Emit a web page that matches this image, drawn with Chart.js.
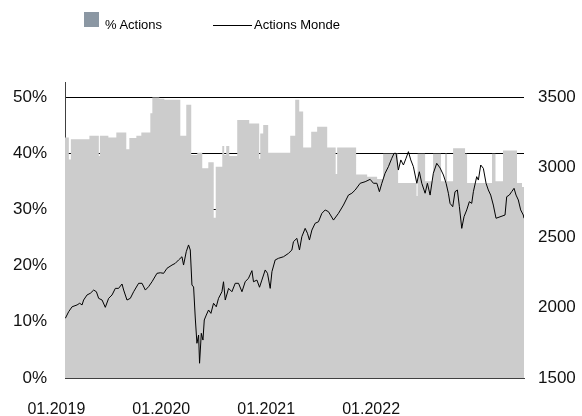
<!DOCTYPE html>
<html>
<head>
<meta charset="utf-8">
<script src="https://cdn.jsdelivr.net/npm/chart.js@4.4.1/dist/chart.umd.min.js"></script>
<style>
  html, body { margin: 0; padding: 0; background: #fff; }
  #wrap { position: relative; width: 582px; height: 416px; }
  .leg { position: absolute; font-family: 'Liberation Sans', Arial, sans-serif; font-size: 13px; line-height: 15px; color: #000; white-space: nowrap; }
  .carre { position: absolute; left: 84px; top: 12px; width: 15px; height: 15px; background: #8b97a3; }
  .trait { position: absolute; left: 213px; top: 25px; width: 39px; height: 1px; background: #000; }
</style>
</head>
<body>
<div id="wrap">
  <canvas id="graf" width="582" height="416"></canvas>
  <div class="carre"></div>
  <div class="leg" style="left:105px; top:17px;">% Actions</div>
  <div class="trait"></div>
  <div class="leg" style="left:254px; top:17px;">Actions Monde</div>
</div>
<script>
// axe X : mois depuis 01.2019
const xTickPos = [0, 12, 24, 36];
const xTickLabels = ['01.2019', '01.2020', '01.2021', '01.2022'];

// % Actions (paliers), debut de chaque palier en mois
const partMois = [-0.5, -0.06, 0.17, 2.29, 3.37, 3.49, 4.46, 5.37, 6.51, 6.86, 7.66, 8.23, 9.26, 9.49, 10.29, 10.86,
  12.69, 13.37, 13.94, 14.63, 15.20, 15.89, 16.51, 16.74, 17.49, 17.71, 17.94, 18.29, 19.20, 20.57, 21.71, 21.83,
  22.17, 22.74, 25.26, 25.83, 26.29, 26.74, 27.66, 28.34, 29.49, 30.46, 30.63, 32.80, 34.06, 35.20, 35.89, 37.60,
  39.71, 39.83, 40.69, 41.60, 42.51, 42.97, 43.20, 43.89, 45.26, 45.49, 48.34, 48.74, 49.60, 51.20, 51.77, 52.0];
const partActions = [42.8, 38.9, 42.5, 43.1, 39.5, 43.1, 42.8, 43.7, 40.7, 42.7, 43.1, 43.7, 47.1, 49.9, 49.7, 49.5,
  43.1, 48.6, 39.7, 40.1, 37.3, 38.4, 28.5, 37.6, 41.3, 39.7, 41.3, 39.5, 45.9, 45.3, 39.0, 43.5,
  45.0, 40.1, 43.1, 49.5, 47.4, 41.0, 43.8, 44.7, 41.0, 36.3, 41.0, 36.2, 35.8, 35.4, 39.9, 34.7,
  32.4, 39.9, 35.0, 39.9, 35.0, 39.9, 35.0, 40.9, 39.9, 34.7, 39.9, 35.0, 40.5, 34.7, 34.0, 34.0];

// Actions Monde (axe de droite)
const mondeMois = [-0.46, -0.08, 0.31, 0.88, 1.18, 1.45, 1.63, 2.02, 2.40, 2.78,
  3.09, 3.35, 3.74, 4.11, 4.49, 4.88, 5.26, 5.63, 6.02, 6.21,
  6.59, 6.97, 7.35, 7.92, 8.31, 8.69, 9.06, 9.45, 10.02, 10.40,
  10.78, 11.17, 11.74, 12.11, 12.49, 12.88, 13.06, 13.37, 13.63, 13.83,
  14.02, 14.21, 14.40, 14.59, 14.78, 14.89, 15.09, 15.28, 15.43, 15.66,
  15.92, 16.19, 16.49, 16.80, 17.06, 17.45, 17.63, 17.83, 18.21, 18.59,
  18.97, 19.35, 19.74, 20.11, 20.49, 20.88, 21.06, 21.45, 21.75, 22.02,
  22.40, 22.66, 22.97, 23.17, 23.54, 23.92, 24.49, 25.06, 25.45, 25.63,
  26.02, 26.32, 26.59, 26.97, 27.23, 27.46, 27.74, 28.11, 28.49, 28.88,
  29.26, 29.63, 30.21, 30.78, 31.35, 31.92, 32.31, 32.69, 33.26, 33.83,
  34.40, 34.78, 35.17, 35.46, 35.74, 36.11, 36.49, 36.88, 37.14, 37.37,
  37.63, 37.91, 38.21, 38.51, 38.78, 39.05, 39.35, 39.74, 40.03, 40.31,
  40.69, 40.95, 41.26, 41.63, 42.02, 42.40, 42.78, 43.09, 43.35, 43.54,
  43.85, 44.11, 44.38, 44.61, 44.88, 45.14, 45.45, 45.75, 46.02, 46.21,
  46.59, 46.78, 47.05, 47.35, 47.66, 47.92, 48.19, 48.49, 48.80, 49.83,
  50.02, 50.32, 50.59, 50.86, 51.09, 51.35, 51.62, 51.92, 52.0];
const mondeValeurs = [1925, 1972, 2007, 2020, 2032, 2020, 2055, 2091, 2103, 2126,
  2114, 2067, 2055, 2003, 2067, 2091, 2138, 2138, 2169, 2126,
  2055, 2067, 2114, 2174, 2174, 2126, 2150, 2185, 2245, 2249,
  2245, 2281, 2304, 2316, 2340, 2363, 2304, 2399, 2447, 2411,
  2162, 2148, 1927, 1747, 1806, 1605, 1818, 1770, 1913, 1948,
  1984, 1960, 2032, 2007, 2067, 2114, 2185, 2055, 2138, 2114,
  2174, 2174, 2114, 2185, 2210, 2264, 2185, 2197, 2146, 2197,
  2269, 2245, 2138, 2257, 2340, 2352, 2363, 2387, 2411, 2470,
  2494, 2411, 2506, 2565, 2530, 2482, 2553, 2601, 2612, 2672,
  2696, 2684, 2624, 2672, 2731, 2802, 2815, 2838, 2886, 2897,
  2914, 2886, 2886, 2826, 2886, 2957, 3004, 3064, 3099, 3099,
  2980, 3052, 3016, 3064, 3111, 3052, 3004, 2886, 2968, 2886,
  2815, 2886, 2802, 2957, 3028, 2995, 2945, 2886, 2815, 2743,
  2719, 2826, 2838, 2719, 2565, 2648, 2696, 2755, 2743, 2826,
  2933, 2909, 3016, 2992, 2886, 2838, 2802, 2731, 2637, 2660,
  2790, 2802, 2826, 2850, 2802, 2767, 2696, 2660, 2637];

const fuenteX = { family: "'Liberation Sans', Arial, sans-serif", size: 16 };
const fuenteY = { family: "'Liberation Sans', Arial, sans-serif", size: 17 };

// prolonge l'axe de gauche un peu au-dessus de 50%
const ejeIzquierdo = {
    id: 'ejeIzquierdo',
    afterDraw(chart) {
        const area = chart.chartArea;
        const c = chart.ctx;
        c.save();
        c.strokeStyle = '#404040';
        c.lineWidth = 1;
        c.beginPath();
        c.moveTo(Math.round(area.left) + 0.5, area.top - 15);
        c.lineTo(Math.round(area.left) + 0.5, area.top);
        c.stroke();
        c.restore();
    }
};

function crearGrafico(id) {
    const ctx = document.getElementById(id);
    if (!ctx) {
        console.error('canvas introuvable : ' + id);
        return;
    }
    new Chart(ctx, {
        type: 'line',
        data: {
            datasets: [
                {
                    label: 'Actions Monde',
                    data: mondeMois.map((m, i) => ({ x: m, y: mondeValeurs[i] })),
                    yAxisID: 'y2',
                    borderColor: '#000',
                    borderWidth: 1,
                    pointRadius: 0,
                    tension: 0,
                    fill: false
                },
                {
                    label: '% Actions',
                    data: partMois.map((m, i) => ({ x: m, y: partActions[i] })),
                    yAxisID: 'y',
                    stepped: 'before',
                    borderWidth: 0,
                    borderColor: 'rgba(0,0,0,0)',
                    backgroundColor: '#cccccc',
                    pointRadius: 0,
                    fill: 'origin'
                }
            ]
        },
        options: {
            responsive: false,
            animation: false,
            devicePixelRatio: 1,
            layout: { padding: { top: 97, left: 0, right: 0, bottom: 0 } },
            plugins: { legend: { display: false }, tooltip: { enabled: false } },
            scales: {
                x: {
                    type: 'linear',
                    min: -0.5,
                    max: 52,
                    grid: { display: false, drawTicks: false },
                    border: { display: true, color: '#404040', width: 1 },
                    afterBuildTicks: s => { s.ticks = xTickPos.map(v => ({ value: v })); },
                    afterFit: s => { s.height = 38; },
                    ticks: {
                        autoSkip: false,
                        maxRotation: 0,
                        padding: 22,
                        labelOffset: -13,
                        color: '#111',
                        font: fuenteX,
                        callback: v => xTickLabels[xTickPos.indexOf(v)]
                    }
                },
                y: {
                    position: 'left',
                    min: 0,
                    max: 50,
                    grid: { color: '#000', lineWidth: 1, drawTicks: false },
                    border: { display: true, color: '#404040', width: 1 },
                    afterFit: s => { s.width = 65; },
                    ticks: { stepSize: 10, padding: 18, color: '#111', font: fuenteY, callback: v => v + '%' }
                },
                y2: {
                    position: 'right',
                    min: 1500,
                    max: 3500,
                    grid: { display: false, drawTicks: false },
                    border: { display: false },
                    afterFit: s => { s.width = 58; },
                    ticks: { stepSize: 500, padding: 14, color: '#111', font: fuenteY, callback: v => String(v) }
                }
            }
        },
        plugins: [ejeIzquierdo]
    });
}

crearGrafico('graf');
</script>
</body>
</html>
